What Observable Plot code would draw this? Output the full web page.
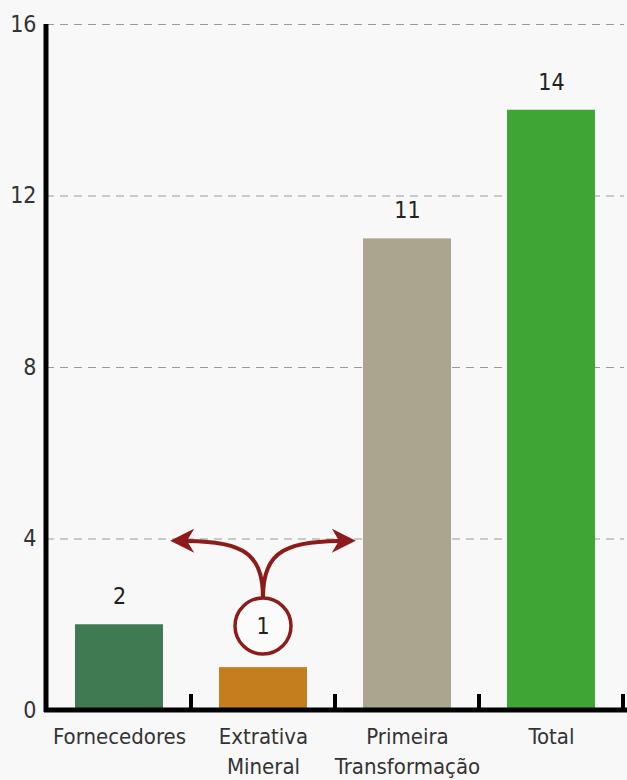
<!DOCTYPE html>
<html>
<head>
<meta charset="utf-8">
<script src="https://cdn.jsdelivr.net/npm/d3@7"></script>
<script src="https://cdn.jsdelivr.net/npm/@observablehq/plot@0.6"></script>
<style>
  html, body { margin: 0; padding: 0; background: #f8f8f8; }
  #chart svg { display: block; }
</style>
</head>
<body>
<div id="chart"></div>
<script>
const categories = ["Fornecedores", "Extrativa Mineral", "Primeira Transformação", "Total"];
const tickLabels = ["Fornecedores", "Extrativa\nMineral", "Primeira\nTransformação", "Total"];
const values = [2, 1, 11, 14];
const colors = ["#407a52", "#c47e1e", "#aba48f", "#3fa535"];
const valueLabels = ["2", "", "11", "14"];
const yTicks = [0, 4, 8, 12, 16];
// annotation: circled "1" above the Extrativa Mineral bar
const calloutCategory = ["Extrativa Mineral"];
const calloutText = ["1"];
const calloutY = [1.96];
const arrowTargetY = [3.95];

const data = categories.map((c, i) => ({category: c, value: values[i], color: colors[i], label: valueLabels[i]}));
const font = "'DejaVu Sans Condensed', 'DejaVu Sans', sans-serif";
const red = "#8e1b1b";

function axisLines(index, scales, values, dims) {
  const g = d3.create("svg:g");
  const x0 = dims.marginLeft, y0 = dims.height - dims.marginBottom, yTop = dims.marginTop;
  g.append("line").attr("x1", x0).attr("x2", x0).attr("y1", yTop).attr("y2", y0 + 2)
    .attr("stroke", "#000").attr("stroke-width", 5);
  g.append("line").attr("x1", x0 - 2).attr("x2", dims.width).attr("y1", y0).attr("y2", y0)
    .attr("stroke", "#000").attr("stroke-width", 5);
  const step = scales.x.step ? scales.x.step() : (scales.x.bandwidth() / (1 - 0.39));
  for (const c of categories) {
    const bx = scales.x(c) + scales.x.bandwidth() / 2 + step / 2;
    g.append("line").attr("x1", bx).attr("x2", bx).attr("y1", y0).attr("y2", y0 - 16)
      .attr("stroke", "#000").attr("stroke-width", 4);
  }
  return g.node();
}

function callout(index, scales, values, dims) {
  const g = d3.create("svg:g");
  const cx = scales.x(calloutCategory[0]) + scales.x.bandwidth() / 2;
  const cy = scales.y(calloutY[0]);
  const r = 28;
  const ty = scales.y(arrowTargetY[0]);
  const top = cy - r;
  const defs = g.append("defs");
  defs.append("marker").attr("id", "ah").attr("viewBox", "0 0 10 10").attr("refX", 8).attr("refY", 5)
    .attr("markerWidth", 6.5).attr("markerHeight", 6).attr("orient", "auto-start-reverse")
    .append("path").attr("d", "M0,0 L10,5 L0,10 L3,5 Z").attr("fill", red);
  for (const s of [-1, 1]) {
    const ex = cx + s * 88;
    g.append("path")
      .attr("d", `M${cx},${top} C${cx},${ty + 8} ${cx + s * 25},${ty} ${ex},${ty}`)
      .attr("fill", "none").attr("stroke", red).attr("stroke-width", 4).attr("marker-end", "url(#ah)");
  }
  g.append("circle").attr("cx", cx).attr("cy", cy).attr("r", r)
    .attr("fill", "#fbfbfb").attr("stroke", red).attr("stroke-width", 3.5);
  g.append("text").attr("x", cx).attr("y", cy).attr("dy", "0.36em").attr("text-anchor", "middle")
    .attr("font-family", font).attr("font-size", 23).attr("fill", "#222").text(calloutText[0]);
  return g.node();
}

const chart = Plot.plot({
  width: 627,
  height: 780,
  marginLeft: 46,
  marginTop: 24,
  marginBottom: 70,
  marginRight: 3,
  style: {background: "#f8f8f8", fontFamily: font, color: "#333"},
  x: {domain: categories, paddingInner: 0.39, paddingOuter: 0.195, axis: null, label: null},
  y: {domain: [0, 16], axis: null, label: null},
  marks: [
    Plot.gridY(yTicks.filter(d => d > 0), {stroke: "#999", strokeOpacity: 1, strokeWidth: 1.2, strokeDasharray: "8,6"}),
    Plot.barY(data, {x: "category", y: "value", fill: "color"}),
    Plot.text(data, {x: "category", y: "value", text: "label", dy: -28, fontSize: 23, fill: "#222"}),
    Plot.axisY({ticks: yTicks, tickSize: 0, tickPadding: 10, fontSize: 23, fill: "#333", label: null}),
    Plot.axisX({tickSize: 0, tickPadding: 12, fontSize: 22, lineHeight: 1.38, fill: "#333", label: null,
      tickFormat: d => tickLabels[categories.indexOf(d)]}),
    axisLines,
    callout
  ]
});
document.getElementById("chart").appendChild(chart);
</script>
</body>
</html>
